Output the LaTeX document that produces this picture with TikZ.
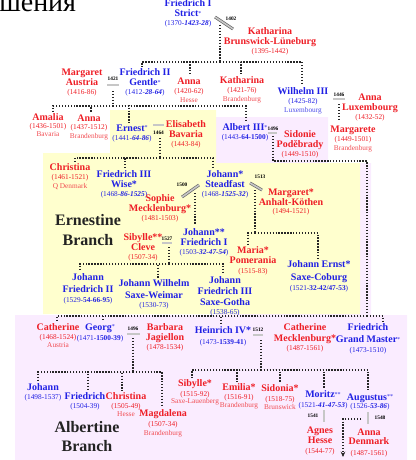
\documentclass[tikz,border=0pt]{standalone}
\usepackage{fontspec}
\setmainfont{Liberation Serif}
\usetikzlibrary{arrows.meta}
\definecolor{famred}{RGB}{238,30,38}
\definecolor{famblue}{RGB}{32,32,228}
\definecolor{ernyellow}{RGB}{255,255,206}
\definecolor{alblilac}{RGB}{250,236,255}
\definecolor{branchgray}{RGB}{35,35,35}
\newcommand{\yrs}[1]{{\fontsize{5.5}{7.5}\selectfont\mdseries #1}}
\newcommand{\plc}[1]{{\fontsize{5.5}{7.5}\selectfont\mdseries\color{.!80!white}#1}}
\newcommand{\rgn}[1]{\textbf{\textit{#1}}}
\newcommand{\smst}[1]{\raisebox{0.35ex}{\fontsize{4.5}{5}\selectfont\mdseries #1}}
\tikzset{
  person/.style={anchor=north, align=center, inner sep=0pt,
    font=\fontsize{7.5}{7.5}\selectfont\bfseries},
  male/.style={person, text=famblue},
  female/.style={person, text=famred},
  descent/.style={draw=black!85, line width=0.8pt, dash pattern=on 1pt off 1.2pt},
  tick/.style={descent, shorten >=1.5pt},
  branch/.style={align=center, inner sep=0pt, text=branchgray,
    font=\fontsize{12}{15}\selectfont\bfseries}
}

\begin{document}
\begin{tikzpicture}[x=0.75pt, y=-0.75pt,
  wed/.style={draw=black!60, double=black!22, double distance=1.2pt, line width=0.5pt},
  wyear/.style={font=\fontsize{4}{4}\selectfont\bfseries, inner sep=0pt}
]
\useasboundingbox (0,0) rectangle (416,460);
% branch backgrounds
\fill[alblilac] (216,117) -- (328,117) -- (328,163) -- (371,163) -- (371,315)
  -- (407,315) -- (407,460) -- (15,460) -- (15,315) -- (216,315) -- cycle;
\fill[ernyellow] (110,110) -- (216,110) -- (216,163) -- (360,163) -- (360,314)
  -- (43,314) -- (43,153) -- (110,153) -- cycle;

\node[anchor=base west, inner sep=0pt, font=\fontsize{21}{21}\selectfont] (heading) at (-1,11.5) {шения};

% Friedrich I and Katharina
\node[male] (fried1) at (188,-0.5) {Friedrich I\\Strict\smst{*}\\[-0.75pt]\yrs{(1370-\rgn{1423-28})}};
\node[female] (kathBL) at (270,27.5) {Katharina\\Brunswick-Lüneburg\\[-0.75pt]\yrs{(1395-1442)}};

% their children
\node[female] (margAus) at (82,68.5) {Margaret\\Austria\\[-0.75pt]\yrs{(1416-86)}};
\node[male] (fried2) at (145,68.5) {Friedrich II\\Gentle\smst{*}\\[-0.75pt]\yrs{(1412-\rgn{28-64})}};
\node[female] (anna1) at (189,77.5) {Anna\\[-0.75pt]\yrs{(1420-62)}\\[-1pt]\plc{Hesse}};
\node[female] (kath1) at (242,76.5) {Katharina\\[-0.75pt]\yrs{(1421-76)}\\[-1pt]\plc{Brandenburg}};
\node[male] (wilh3) at (303,87.5) {Wilhelm III\\[-0.75pt]\yrs{(1425-82)}\\[-1pt]\plc{Luxembourg}};
\node[female] (annaLux) at (370,93.5) {Anna\\Luxembourg\\[-0.75pt]\yrs{(1432-52)}};

% children of Friedrich II
\node[female] (amalia) at (48,113.5) {Amalia\\[-1.5pt]\yrs{(1436-1501)}\\[-1.5pt]\plc{Bavaria}};
\node[female] (anna2) at (89,114.5) {Anna\\[-1.5pt]\yrs{(1437-1512)}\\[-1pt]\plc{Brandenburg}};
\node[male] (ernest) at (132,124.5) {Ernest\smst{*}\\[-0.75pt]\yrs{(1441-\rgn{64-86})}};
\node[female] (elisBav) at (186,120.5) {Elisabeth\\Bavaria\\[-0.75pt]\yrs{(1443-84)}};
\node[male] (albert3) at (245,123.5) {Albert III\smst{*}\\[-0.75pt]\yrs{(1443-\textbf{64-1500})}};
\node[female] (sidonie) at (300,130.5) {Sidonie\\Poděbrady\\[-0.75pt]\yrs{(1449-1510)}};
\node[female] (margarete) at (353,125.5) {Margarete\\[-0.25pt]\yrs{(1449-1501)}\\[-0.75pt]\plc{Brandenburg}};

% Ernestine branch
\node[female] (christina1) at (70,163.5) {Christina\\[-0.75pt]\yrs{(1461-1521)}\\[-0.75pt]\plc{Q Denmark}};
\node[male] (wise) at (124,170.5) {Friedrich III\\Wise*\\[-0.75pt]\yrs{(1468-\rgn{86-1525})}};
\node[male] (johannSt) at (225,170.5) {Johann*\\Steadfast\\[-0.75pt]\yrs{(1468-\rgn{1525-32})}};
\node[female] (sophie) at (160,194.5) {Sophie\\Mecklenburg*\\[-0.75pt]\yrs{(1481-1503)}};
\node[female] (margAnh) at (291,188.5) {Margaret*\\Anhalt-Köthen\\[-1.5pt]\yrs{(1494-1521)}};
\node[female] (sibCleve) at (143,233.5) {Sibylle**\\Cleve\\[-0.75pt]\yrs{(1507-34)}};
\node[male] (jf1) at (204,228.5) {Johann**\\Friedrich I\\[-0.75pt]\yrs{(1503-\rgn{32-47-54})}};
\node[female] (maria) at (253,246.5) {Maria*\\Pomerania\\[-0.25pt]\yrs{(1515-83)}};
\node[male] (johErnst) at (319,260.5) {Johann Ernst*\\[2.25pt]Saxe-Coburg\\[-0.25pt]\yrs{(1521-\textbf{32-42/47-53})}};
\node[male] (jf2) at (88,273.5) {Johann\\[1.5pt]Friedrich II\\[-0.25pt]\yrs{(1529-\textbf{54-66-95})}};
\node[male] (johWilh) at (154,279.5) {Johann Wilhelm\\[1.5pt]Saxe-Weimar\\[-0.75pt]\yrs{(1530-73)}};
\node[male] (jf3) at (225,276.5) {Johann\\[0.75pt]Friedrich III\\[0.75pt]Saxe-Gotha\\[-0.75pt]\yrs{(1538-65)}};
\node[branch] (ernBranch) at (88,230) {Ernestine\\Branch};

% Albertine branch
\node[female] (cathAus) at (58,323.5) {Catherine\\[-0.75pt]\yrs{(1468-1524)}\\[-1.5pt]\plc{Austria}};
\node[male] (georg) at (100,323.5) {Georg\smst{*}\\\yrs{(1471-\textbf{1500-39})}};
\node[female] (barbara) at (165,323.5) {Barbara\\Jagiellon\\[-0.75pt]\yrs{(1478-1534)}};
\node[male] (heinrich4) at (223,326.5) {Heinrich IV*\\[0.75pt]\yrs{(1473-\textbf{1539-41})}};
\node[female] (cathMeck) at (305,323.5) {Catherine\\[0.75pt]Mecklenburg*\\[-0.75pt]\yrs{(1487-1561)}};
\node[male] (friedGM) at (368,323.5) {Friedrich\\[1.5pt]Grand Master\smst{*}\\\yrs{(1473-1510)}};
\node[male] (johann2) at (43,383.5) {Johann\\[-0.75pt]\yrs{(1498-1537)}};
\node[male] (friedrich) at (85,392.5) {Friedrich\\[-0.75pt]\yrs{(1504-39)}};
\node[female] (christina2) at (126,392.5) {Christina\\[-0.75pt]\yrs{(1505-49)}\\[-1.5pt]\plc{Hesse}};
\node[female] (magdalena) at (163,409.5) {Magdalena\\[-0.25pt]\yrs{(1507-34)}\\[-1pt]\plc{Brandenburg}};
\node[female] (sibylle) at (195,379.5) {Sibylle*\\[-0.25pt]\yrs{(1515-92)}\\[-2pt]\plc{Saxe-Lauenberg}};
\node[female] (emilia) at (239,383.5) {Emilia*\\[-0.75pt]\yrs{(1516-91)}\\[-1.5pt]\plc{Brandenburg}};
\node[female] (sidonia) at (280,384.5) {Sidonia*\\[-0.25pt]\yrs{(1518-75)}\\[-1.5pt]\plc{Brunswick}};
\node[male] (moritz) at (323,390.5) {Moritz\smst{**}\\[-0.25pt]\yrs{(1521-\rgn{41-47-53})}};
\node[male] (augustus) at (370,393.5) {Augustus\smst{**}\\[-1.5pt]\yrs{(1526-\rgn{53-86})}};
\node[female] (agnes) at (320,426.5) {Agnes\\Hesse\\\yrs{(1544-77)}};
\node[female] (annaDen) at (369,428.5) {Anna\\[-0.75pt]Denmark\\[0.75pt]\yrs{(1487-1561)}};
\node[branch] (albBranch) at (87,436.5) {Albertine\\[-0.75pt]Branch};

% marriages
\coordinate (w1402) at (224,23);
\coordinate (w1421) at (113,85);
\coordinate (w1446) at (339,99);
\coordinate (w1464) at (158.5,125);
\coordinate (w1496a) at (272.5,133);
\coordinate (w1500) at (190.5,191);
\coordinate (w1513) at (256,186.5);
\coordinate (w1527) at (167,243);
\coordinate (w1496b) at (133.5,334);
\coordinate (w1512) at (258,335);
\coordinate (w1541) at (324,416);
\coordinate (w1548) at (368,418);
\draw[wed] (w1402) ++(-9,-6) -- ++(18,12);
\draw[wed] (w1421) ++(-6,0) -- ++(12,0);
\draw[wed] (w1446) ++(-6,0) -- ++(12,0);
\draw[wed] (w1464) ++(-5.5,0) -- ++(11,0);
\draw[wed] (w1496a) ++(-4.5,0) -- ++(9,0);
\draw[wed] (w1500) ++(-8.5,6) -- ++(17,-12);
\draw[wed] (w1513) ++(-6,-3.5) -- ++(12,7);
\draw[wed] (w1527) ++(-5,0) -- ++(10,0);
\draw[wed] (w1496b) ++(-6.5,0) -- ++(13,0);
\draw[wed] (w1512) ++(-5,0) -- ++(10,0);
\draw[wed] (w1541) ++(0,-6) -- ++(0,12);
\draw[wed] (w1548) ++(0,-6) -- ++(0,12);
\node[wyear] (y1402) at (231,19) {1402};
\node[wyear] (y1421) at (113,79) {1421};
\node[wyear] (y1446) at (339,94.5) {1446};
\node[wyear] (y1464) at (158.5,132.5) {1464};
\node[wyear] (y1496a) at (273,128.5) {1496};
\node[wyear] (y1500) at (182,185) {1500};
\node[wyear] (y1513) at (260,177) {1513};
\node[wyear] (y1527) at (167,238.5) {1527};
\node[wyear] (y1496b) at (133,328.5) {1496};
\node[wyear] (y1512) at (258,330) {1512};
\node[wyear] (y1541) at (313,416) {1541};
\node[wyear] (y1548) at (380,418) {1548};

% lines of descent
\coordinate (d1402) at (220,25);   \coordinate (b1402) at (220,62);
\coordinate (d1421) at (113,91);   \coordinate (b1421) at (113,106);
\coordinate (d1464) at (160,138);  \coordinate (b1464) at (160,158);
\coordinate (d1496a) at (273,136); \coordinate (c1496a) at (367,161);
\coordinate (b1496a) at (367,316);
\coordinate (d1500) at (195,193);
\coordinate (d1513) at (255,190);  \coordinate (b1513) at (255,233);
\coordinate (d1527) at (169,247);  \coordinate (b1527) at (169,264);
\coordinate (d1496b) at (133,338); \coordinate (b1496b) at (133,372);
\coordinate (d1512) at (261,340);  \coordinate (b1512) at (261,370);
\coordinate (d1548) at (361,419);  \coordinate (offpage) at (343,457);

\draw[descent] (d1402) -- (b1402);
\foreach \c/\dx in {fried2/-2.25pt, anna1/0.75pt, kath1/-0.75pt, wilh3/-0.75pt}
  \draw[tick] (b1402) -| ([xshift=\dx]\c.north);
\draw[descent] (d1421) -- (b1421);
\foreach \c/\dx in {amalia/3.75pt, anna2/1.5pt, ernest/-2.25pt, albert3/0.75pt}
  \draw[tick] (b1421) -| ([xshift=\dx]\c.north);
\draw[tick, shorten >=4pt] (w1446) ++(0,5) -- (w1446 |- margarete.north);
\draw[descent] (d1464) -- (b1464);
\foreach \c/\dx in {christina1/3.75pt, wise/0.75pt, johannSt/-9pt}
  \draw[tick] (b1464) -| ([xshift=\dx]\c.north);
\draw[descent] (d1496a) |- (c1496a) -- (b1496a);
\foreach \c/\dx in {cathAus/-0.75pt, georg/2.25pt, heinrich4/-1.5pt, friedGM/11.25pt}
  \draw[tick] (b1496a) -| ([xshift=\dx]\c.north);
\draw[tick, shorten >=2.5pt] (d1500) -- (d1500 |- jf1.north);
\draw[descent] (d1513) -- (b1513);
\foreach \c/\dx in {maria/-3.75pt, johErnst/-0.75pt}
  \draw[tick] (b1513) -| ([xshift=\dx]\c.north);
\draw[descent] (d1527) -- (b1527);
\foreach \c/\dx in {jf2/-6pt, johWilh/3pt, jf3/-1.5pt}
  \draw[tick] (b1527) -| ([xshift=\dx]\c.north);
\draw[descent] (d1496b) -- (b1496b);
\foreach \c/\dx in {johann2/-3.75pt, friedrich/2.25pt, christina2/-3pt, magdalena/-0.75pt}
  \draw[tick] (b1496b) -| ([xshift=\dx]\c.north);
\draw[descent] (d1512) -- (b1512);
\foreach \c/\dx in {sibylle/-2.25pt, emilia/-1.5pt, sidonia/0pt, moritz/0.75pt, augustus/-1.5pt}
  \draw[tick] (b1512) -| ([xshift=\dx]\c.north);
\draw[descent, -{Stealth[length=4pt, width=3.5pt]}] (d1548) -| (offpage);
\end{tikzpicture}
\end{document}
